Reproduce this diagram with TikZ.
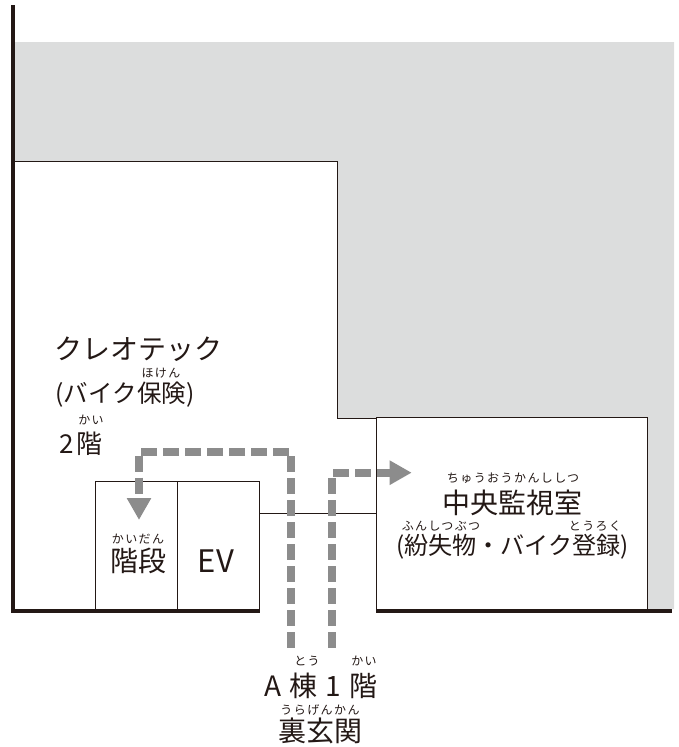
\documentclass[tikz,border=0pt]{standalone}
\usepackage{fontspec}
\setmainfont{Noto Sans CJK JP}
\newfontfamily\rubyfont[LetterSpace=12]{Noto Sans CJK JP}
\usetikzlibrary{arrows.meta}
\definecolor{ink}{HTML}{231815}
\definecolor{floorgrey}{HTML}{DCDDDD}
\definecolor{routegrey}{HTML}{8C8C8C}
\tikzset{
  wall/.style={draw=ink,line width=4pt},
  thin wall/.style={draw=ink,line width=1pt},
  roombox/.style={thin wall,rectangle,inner sep=0pt,minimum height=128pt,minimum width=82pt},
  route/.style={draw=routegrey,line width=8pt,dash pattern=on 16pt off 6pt,line join=bevel,
    -{Triangle[length=22pt,width=23pt,fill=routegrey,color=routegrey]}},
  big/.style={text=ink,font=\fontsize{28}{28}\selectfont,inner sep=0pt},
  mid/.style={text=ink,font=\fontsize{24.5}{24.5}\selectfont,inner sep=0pt},
  ruby/.style={text=ink,font=\rubyfont\fontsize{12}{12}\selectfont,inner sep=0pt}
}
\begin{document}
\begin{tikzpicture}[x=1pt,y=-1pt]
\useasboundingbox (0,0) rectangle (679,747);
% grey surroundings
\fill[floorgrey] (14,42) -- (674,42) -- (674,609) -- (647,609) -- (647,418) -- (337,418) -- (337,161) -- (14,161) -- cycle;
\fill[white] (376,418) rectangle (647,609);
% room outlines
\draw[thin wall] (14,161) -- (337,161) -- (337,418) -- (376,418);
\node[roombox,anchor=south west] (stairs) at (95,610) {};
\node[roombox,anchor=south west] (ev) at (177,610) {};
\node[thin wall,rectangle,inner sep=0pt,minimum width=271pt,minimum height=192pt,anchor=south west] (center) at (376,610) {};
\coordinate (link) at (259.5,513);
\draw[thin wall] (link) -- (link -| center.west);
% walls
\draw[wall] (12.5,5) -- (12.5,610.7) -- (259.5,610.7);
\draw[wall] (376,610.7) -- (672,610.7);
% routes
\coordinate (rs1) at (291,647.7);
\coordinate (rc1) at (291,451.7);
\coordinate (rc2) at (139,451.7);
\coordinate (re1) at (139,520);
\draw[route] (rs1) -- (rc1) -- (rc2) -- (re1);
\coordinate (rs2) at (332,647.7);
\coordinate (rc3) at (332,472.7);
\coordinate (re2) at (411.7,472.7);
\draw[route] (rs2) -- (rc3) -- (re2);
% labels
\node[big] (t1) at (138,349.5) {クレオテック};
\node[mid] (t2) at (125,395) {(バイク保険)};
\node[ruby] (t2r) at (161,373) {ほけん};
\node[big,font=\fontsize{26}{26}\selectfont] (t3) at (81,444) {2\hspace{3pt}階};
\node[ruby] (t3r) at (91,420) {かい};
\node[big] (t4) at (138,560.5) {階段};
\node[ruby] (t4r) at (138,539) {かいだん};
\node[big,font=\fontsize{31}{31}\selectfont] (t5) at (216,561) {EV};
\node[big] (t6) at (512,502.5) {中央監視室};
\node[ruby] (t6r) at (513,478) {ちゅうおうかんししつ};
\node[mid,font=\fontsize{24.1}{24.1}\selectfont] (t7) at (512.5,546.5) {(紛失物・バイク登録)};
\node[ruby] (t7r1) at (441,526) {ふんしつぶつ};
\node[ruby] (t7r2) at (595,526) {とうろく};
\node[big] (t8) at (321,685.5) {A\hspace{8pt}棟\hspace{8pt}1\hspace{8pt}階};
\node[ruby] (t8r1) at (307,661) {とう};
\node[ruby] (t8r2) at (364,661) {かい};
\node[big] (t9) at (320,731) {裏玄関};
\node[ruby] (t9r) at (320,710) {うらげんかん};
\end{tikzpicture}
\end{document}
